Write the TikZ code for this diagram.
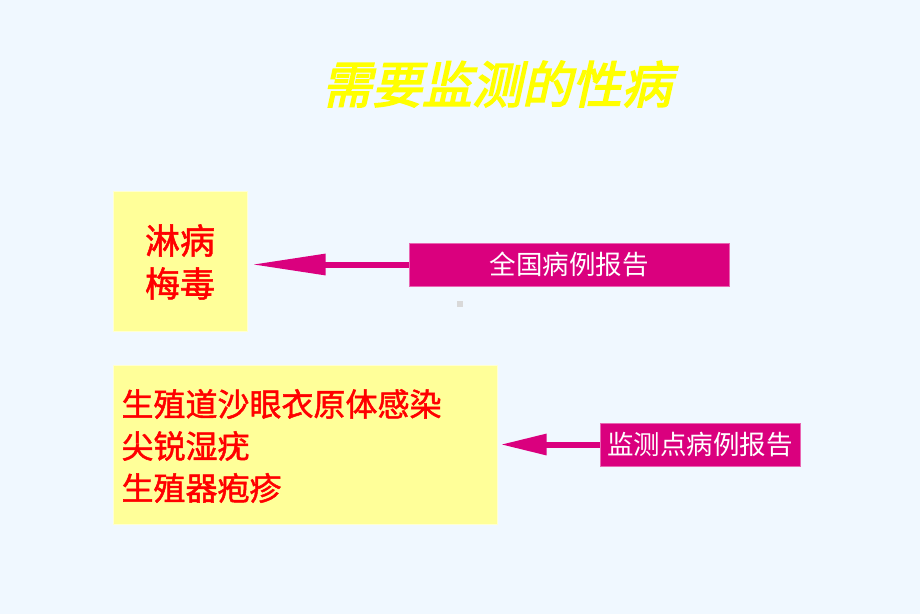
\documentclass[tikz,border=0pt]{standalone}
\usepackage{fontspec}
\newfontfamily\cjk{Noto Sans CJK SC}
\newfontfamily\cjkbold[FakeBold=1.5]{Noto Sans CJK SC}
\newfontfamily\cjktitle[FakeSlant=0.22,FakeBold=3]{Noto Sans CJK SC}
\usetikzlibrary{arrows.meta}
\definecolor{bg}{RGB}{240,248,255}
\definecolor{ybox}{RGB}{255,255,153}
\definecolor{yedge}{RGB}{255,255,210}
\definecolor{mag}{RGB}{218,0,126}
\definecolor{ttl}{RGB}{255,255,0}
\definecolor{redtxt}{RGB}{255,0,0}
\tikzset{
  yellowbox/.style={fill=ybox,draw=yedge,line width=1pt,inner sep=0pt},
  magbox/.style={fill=mag,draw=mag!60!white,line width=0.6pt,text=white,inner sep=0pt,font=\cjk\fontsize{26.5}{30}\selectfont},
  bigarrow/.style={draw=mag,line width=6pt,-{Triangle[length=74pt,width=20pt]}},
  bigarrowb/.style={draw=mag,line width=6pt,-{Triangle[length=46pt,width=20pt]}},
}
\begin{document}
\begin{tikzpicture}[x=1pt,y=-1pt]
\fill[bg] (0,0) rectangle (920,614);
\useasboundingbox (0,0) rectangle (920,614);
% title
\node[text=ttl,font=\cjktitle\fontsize{50}{54}\selectfont] (title) at (497,84) {需要监测的性病};
% box 1
\node[yellowbox,minimum width=134pt,minimum height=140pt] (b1) at (180,261) {};
\node[text=redtxt,font=\cjkbold\fontsize{35}{43}\selectfont,align=center] (b1t) at (180,262) {淋病\\梅毒};
% label 1
\node[magbox,minimum width=320pt,minimum height=43pt] (l1) at (569,264.5) {全国病例报告};
\draw[bigarrow,shorten >=4pt] (l1.west) -- (b1.east |- l1.west);
% box 2
\node[yellowbox,minimum width=384pt,minimum height=159pt] (b2) at (305,444.5) {};
\node[text=redtxt,font=\cjkbold\fontsize{32}{42}\selectfont,align=left,anchor=west] (b2t) at (118,446) {生殖道沙眼衣原体感染\\尖锐湿疣\\生殖器疱疹};
% label 2
\node[magbox,minimum width=200pt,minimum height=43pt] (l2) at (700,444.5) {监测点病例报告};
\draw[bigarrowb,shorten >=3pt] (l2.west) -- (b2.east |- l2.west);
% small grey mark
\fill[gray!30] (457,301) rectangle (463,307);
\end{tikzpicture}
\end{document}
